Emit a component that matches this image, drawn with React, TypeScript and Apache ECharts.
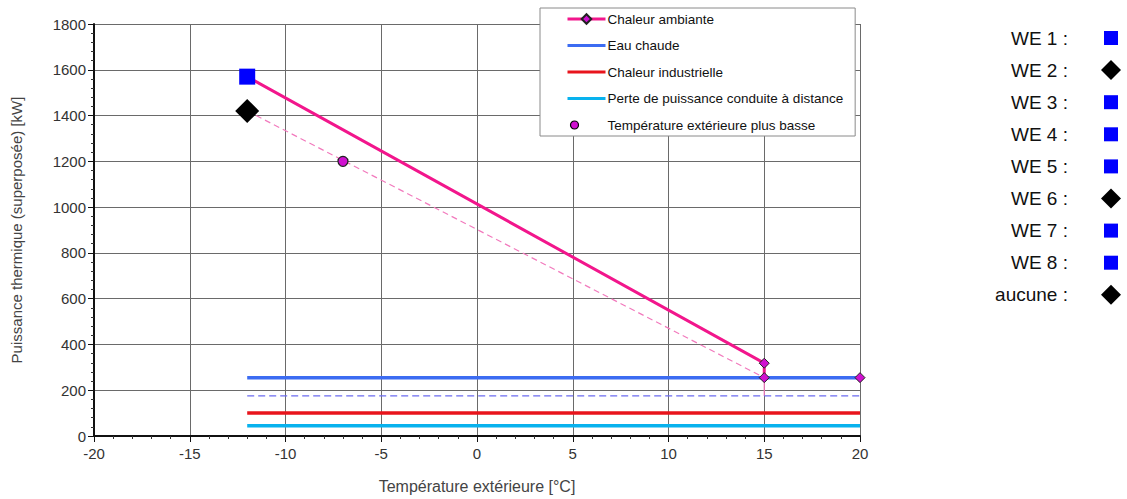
import React, { useEffect, useRef } from "react";
import * as echarts from "echarts";

// ---- data ----
const ambianteData: number[][] = [[-12, 1570], [15, 318], [15, 255]];
const eauChaudeData: number[][] = [[-12, 255], [20, 255]];
const limiteData: number[][] = [[-12, 175], [20, 175]];
const industrielleData: number[][] = [[-12, 100], [20, 100]];
const perteData: number[][] = [[-12, 45], [20, 45]];
const basseLineData: number[][] = [[-12, 1420], [15, 255]];
const basseDropData: number[][] = [[15, 255], [15, 175]];
const bassePointData: number[][] = [[-7, 1200]];
const weSquareData: number[][] = [[-12, 1570]];
const weDiamondData: number[][] = [[-12, 1420]];

const legendNames = [
  "Chaleur ambiante",
  "Eau chaude",
  "Chaleur industrielle",
  "Perte de puissance conduite à distance",
  "Température extérieure plus basse",
];
const weLabels = ["WE 1 :", "WE 2 :", "WE 3 :", "WE 4 :", "WE 5 :", "WE 6 :", "WE 7 :", "WE 8 :", "aucune :"];
const weSymbols = ["square", "diamond", "square", "square", "square", "diamond", "square", "square", "diamond"];

const FONT = "'Liberation Sans', Arial, sans-serif";
const PINK = "#f2168c";
const MAGENTA = "#d010d0";
const BLUE = "#3c6cf2";
const RED = "#e8141c";
const CYAN = "#08b2ee";
const LINE_ICON = "path://M0,0 M38,12 M0,4.5 L38,4.5 L38,7.5 L0,7.5 Z";

export default function App() {
  const ref = useRef<HTMLDivElement>(null);
  useEffect(() => {
    if (!ref.current) return;
    const chart = echarts.init(ref.current, null, { renderer: "svg" });

    const weGraphics: any[] = [];
    weLabels.forEach((lab, i) => {
      const cy = 38 + i * 32.1;
      weGraphics.push({
        type: "text",
        x: 1068,
        y: cy,
        style: { text: lab, fill: "#111", font: `19px ${FONT}`, textAlign: "right", textVerticalAlign: "middle" },
      });
      if (weSymbols[i] === "square") {
        weGraphics.push({ type: "rect", shape: { x: 1104, y: cy - 7, width: 14, height: 14 }, style: { fill: "#0000ff" } });
      } else {
        weGraphics.push({
          type: "polygon",
          shape: { points: [[1111, cy - 10], [1121, cy], [1111, cy + 10], [1101, cy]] },
          style: { fill: "#000" },
        });
      }
    });

    const diamondPoint = (p: number[]) => ({ value: p });
    const plainIcon = (c: string) => ({ color: c, borderWidth: 0, borderColor: c });

    chart.setOption({
      animation: false,
      backgroundColor: "#fff",
      textStyle: { fontFamily: FONT },
      grid: { left: 94, right: 267, top: 24, bottom: 58 },
      legend: {
        data: [
          { name: legendNames[0], lineStyle: { width: 3 } },
          { name: legendNames[1], icon: LINE_ICON, itemStyle: plainIcon(BLUE) },
          { name: legendNames[2], icon: LINE_ICON, itemStyle: plainIcon(RED) },
          { name: legendNames[3], icon: LINE_ICON, itemStyle: plainIcon(CYAN) },
          {
            name: legendNames[4],
            icon: "path://M0,0 M38,12 M3,6 A4,4 0 1,1 11,6 A4,4 0 1,1 3,6 Z",
            itemStyle: { color: MAGENTA, borderColor: "#000", borderWidth: 1.2 },
          },
        ],
        orient: "vertical",
        left: 540,
        top: 8,
        backgroundColor: "#fff",
        borderColor: "#8a8a8a",
        borderWidth: 1,
        borderRadius: 0,
        padding: [4, 12, 4, 26],
        itemGap: 12.5,
        itemWidth: 38,
        itemHeight: 12,
        selectedMode: false,
        textStyle: { fontSize: 13.5, color: "#111", fontFamily: FONT, padding: [0, 0, 0, -3] },
        z: 10,
      },
      xAxis: {
        type: "value",
        min: -20,
        max: 20,
        interval: 5,
        axisLine: { show: true, onZero: false, lineStyle: { color: "#111", width: 2 } },
        axisTick: { show: true, length: 6, lineStyle: { color: "#111" } },
        minorTick: { show: true, splitNumber: 5, length: 3, lineStyle: { color: "#333" } },
        axisLabel: { fontSize: 15, color: "#333", margin: 10, fontFamily: FONT, formatter: (v: number) => String(v) },
        splitLine: { show: true, lineStyle: { color: "#6a6a6a", width: 1 } },
        name: "Température extérieure [°C]",
        nameLocation: "middle",
        nameGap: 42,
        nameTextStyle: { fontSize: 16, color: "#444", fontFamily: FONT },
      },
      yAxis: {
        type: "value",
        min: 0,
        max: 1800,
        interval: 200,
        axisLine: { show: true, onZero: false, lineStyle: { color: "#111", width: 2 } },
        axisTick: { show: true, length: 6, lineStyle: { color: "#111" } },
        minorTick: { show: true, splitNumber: 5, length: 3, lineStyle: { color: "#333" } },
        axisLabel: { fontSize: 15, color: "#333", margin: 8, fontFamily: FONT, formatter: (v: number) => String(v) },
        splitLine: { show: true, lineStyle: { color: "#6a6a6a", width: 1 } },
        name: "Puissance thermique (superposée) [kW]",
        nameLocation: "middle",
        nameGap: 70,
        nameTextStyle: { fontSize: 15, color: "#444", fontFamily: FONT },
      },
      graphic: weGraphics,
      series: [
        {
          name: legendNames[4] + "_line",
          type: "line",
          data: basseLineData,
          symbol: "none",
          lineStyle: { color: "#f27abd", width: 1.2, type: [6, 4] },
          z: 3,
        },
        {
          name: legendNames[4] + "_drop",
          type: "line",
          data: basseDropData,
          symbol: "none",
          lineStyle: { color: "#f27abd", width: 1.2 },
          z: 3,
        },
        {
          name: "limite",
          type: "line",
          data: limiteData,
          symbol: "none",
          lineStyle: { color: "#6b6bf0", width: 1.2, type: [7, 4] },
          z: 3,
        },
        {
          name: legendNames[3],
          type: "line",
          data: perteData,
          symbol: "none",
          color: CYAN,
          lineStyle: { color: CYAN, width: 3.5 },
          z: 4,
        },
        {
          name: legendNames[2],
          type: "line",
          data: industrielleData,
          symbol: "none",
          color: RED,
          lineStyle: { color: RED, width: 3.5 },
          z: 4,
        },
        {
          name: legendNames[1],
          type: "line",
          data: eauChaudeData.map((p, i) => (i === eauChaudeData.length - 1 ? diamondPoint(p) : { value: p, symbol: "none" })),
          symbol: "diamond",
          symbolSize: 10,
          color: BLUE,
          itemStyle: { color: MAGENTA, borderColor: "#222", borderWidth: 1 },
          lineStyle: { color: BLUE, width: 3.5 },
          z: 4,
        },
        {
          name: legendNames[0],
          type: "line",
          data: ambianteData.map((p, i) => (i === 0 ? { value: p, symbol: "none" } : diamondPoint(p))),
          symbol: "diamond",
          symbolSize: 10,
          color: PINK,
          itemStyle: { color: MAGENTA, borderColor: "#222", borderWidth: 1 },
          lineStyle: { color: PINK, width: 3 },
          z: 5,
        },
        {
          name: legendNames[4],
          type: "scatter",
          data: bassePointData,
          symbol: "circle",
          symbolSize: 10,
          itemStyle: { color: MAGENTA, borderColor: "#222", borderWidth: 1.2, opacity: 1 },
          z: 6,
        },
        {
          name: "WE carré",
          type: "scatter",
          data: weSquareData,
          symbol: "rect",
          symbolSize: 16,
          itemStyle: { color: "#0000ff", opacity: 1 },
          z: 7,
        },
        {
          name: "WE losange",
          type: "scatter",
          data: weDiamondData,
          symbol: "diamond",
          symbolSize: 24,
          itemStyle: { color: "#000", opacity: 1 },
          z: 7,
        },
      ],
    });
    return () => chart.dispose();
  }, []);
  return (
    <div
      ref={ref}
      style={{ position: "fixed", left: 0, top: 0, width: 1127, height: 499, background: "#fff" }}
    />
  );
}
